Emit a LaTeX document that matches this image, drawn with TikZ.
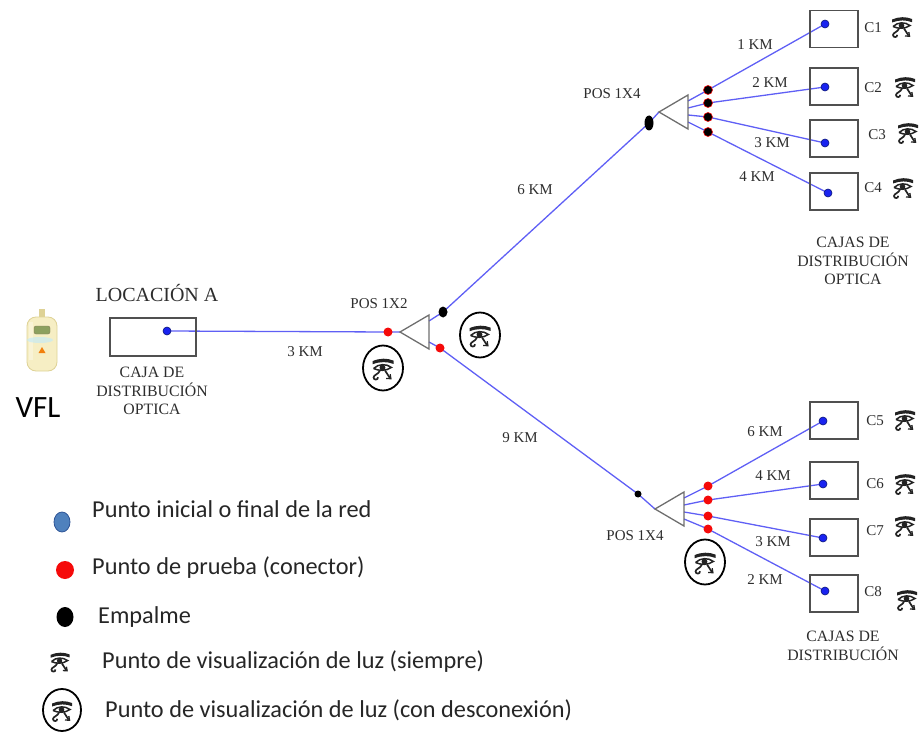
\documentclass[tikz,border=0pt]{standalone}
\usepackage{fontspec}
\setmainfont{Liberation Serif}
\newfontfamily\legendfont{Carlito}
\usetikzlibrary{shapes.geometric,backgrounds}
\definecolor{fiber}{RGB}{95,95,245}
\definecolor{endblue}{RGB}{25,35,240}
\definecolor{endrim}{RGB}{10,20,120}
\definecolor{boxgray}{RGB}{80,80,80}
\definecolor{trigray}{RGB}{110,110,110}
\definecolor{labelgray}{RGB}{45,45,45}
\definecolor{legblue}{RGB}{79,129,189}
\definecolor{legrim}{RGB}{47,85,151}
\definecolor{conred}{RGB}{245,10,10}
\definecolor{vflbody}{RGB}{246,238,196}
\definecolor{vflrim}{RGB}{222,210,150}
\definecolor{vfldisp}{RGB}{140,160,95}
\definecolor{glyph}{RGB}{35,35,35}

\tikzset{
  fiberline/.style={draw=fiber, line width=1.3},
  enddot/.style={circle, fill=endblue, draw=endrim, line width=0.6, inner sep=0, minimum size=8},
  testdot/.style={circle, fill=conred, inner sep=0, minimum size=9},
  splice/.style={ellipse, fill=black, inner sep=0, minimum width=9, minimum height=11},
  splicered/.style={circle, fill=black, draw=conred, line width=0.6, inner sep=0, minimum size=9},
  cbox/.style={draw=boxgray, line width=1.4, inner sep=0, minimum width=48, minimum height=37},
  lbl/.style={text=labelgray, inner sep=0, font=\fontsize{15}{17}\selectfont},
  biglbl/.style={text=labelgray, inner sep=0, font=\fontsize{20}{22}\selectfont},
  boxlbl/.style={text=labelgray, inner sep=0, align=center, font=\fontsize{15.8}{18.5}\selectfont},
  legtxt/.style={anchor=west, inner sep=0, text=black!85, font=\legendfont\fontsize{24.3}{27}\selectfont},
  eyering/.style={ellipse, draw=black, line width=1.8, inner sep=0, minimum width=40, minimum height=45},
  % stylised eye of Horus glyph
  horus/.pic={
    \begin{scope}[glyph]
    \fill (-10,-7.5) .. controls (-3,-10.5) and (4,-10.5) .. (10,-8) -- (10,-4.8)
          .. controls (4,-7.2) and (-3,-7.2) .. (-10,-4.5) -- cycle;
    \draw[line width=1.5] (-9,-0.5) .. controls (-4,-5.2) and (3,-5.2) .. (8,-1.5)
          .. controls (3,2) and (-4,2) .. (-9,-0.5);
    \fill (-0.5,-1.3) circle (2.8);
    \draw[line width=1.7] (-3,1.5) .. controls (-4,5) and (-9,5.5) .. (-9,8)
          .. controls (-9,10.8) and (-4.5,10.8) .. (-4.8,7.8);
    \draw[line width=1.7] (2,1.5) -- (6.5,8.5);
    \draw[line width=1.3] (3,9) -- (7.5,9.2) -- (6.8,5);
    \end{scope}
  },
  % 1xN splitter: left tip, vertical right side
  splitter/.pic={
    \draw[draw=trigray, line width=1.3] (0,0) -- (29,-17) -- (29,17) -- cycle;
    \coordinate (-tip) at (0,0);
    \coordinate (-a) at (29,-11);
    \coordinate (-b) at (29,-4);
    \coordinate (-c) at (29,3);
    \coordinate (-d) at (29,10);
  }
}

\begin{document}
\begin{tikzpicture}[x=1pt, y=-1pt]
\useasboundingbox (0,0) rectangle (921,738);

% ---------- VFL source ----------
\fill[vflrim] (38.5,309) rectangle (44.5,318);
\draw[vflrim, fill=vflbody, line width=0.8, rounded corners=9] (27,317) rectangle (57,371);
\fill[vflbody!70!white] (29,322) rectangle (33,360);
\draw[vflrim!60!black, fill=vfldisp, rounded corners=2] (34,326) rectangle (50,334);
\fill[cyan!25, opacity=0.6] (40,340) ellipse (13 and 3);
\fill[orange!80!brown] (42,347) -- (45.5,353) -- (38.5,353) -- cycle;
\node[font=\legendfont\fontsize{31}{33}\selectfont, inner sep=0] (vfl) at (38,408) {VFL};

% ---------- location A ----------
\node[biglbl] (locA) at (157,293) {LOCACIÓN A};
\node[cbox, minimum width=86, minimum height=38] (boxA) at (153,337) {};
\node[enddot] (pA) at (167,331) {};
\node[boxlbl] (boxAtxt) at (152,391) {CAJA DE\\DISTRIBUCIÓN\\OPTICA};

% ---------- splitters ----------
\pic (s0) at (400,332) {splitter};
\pic (s1) at (659,112) {splitter};
\pic (s2) at (655,509) {splitter};

% ---------- connection points on the trunk ----------
\node[testdot] (r0) at (388,332) {};
\node[splice] (k0) at (443,312) {};
\node[testdot] (r1) at (440,348) {};
\node[splice, minimum width=9, minimum height=15] (k1) at (649,123) {};
\node[splice, minimum width=7, minimum height=7] (k2) at (638,494) {};

% ---------- upper output points ----------
\node[splicered] (u1) at (708,90) {};
\node[splicered] (u2) at (708,103) {};
\node[splicered] (u3) at (708,117) {};
\node[splicered] (u4) at (708,132) {};

% ---------- lower output points ----------
\node[testdot] (l1) at (708,486) {};
\node[testdot] (l2) at (708,500) {};
\node[testdot] (l3) at (708,516) {};
\node[testdot] (l4) at (708,529) {};

% ---------- customer boxes ----------
\node[cbox] (b1) at (834,29) {};
\node[cbox] (b2) at (834,86.5) {};
\node[cbox] (b3) at (834,138.5) {};
\node[cbox] (b4) at (834,191.5) {};
\node[cbox] (b5) at (834,420.5) {};
\node[cbox] (b6) at (834,480.5) {};
\node[cbox] (b7) at (834,537.5) {};
\node[cbox] (b8) at (834,593.5) {};
\node[enddot] (c1) at (825,24) {};
\node[enddot] (c2) at (825,87) {};
\node[enddot] (c3) at (825,143) {};
\node[enddot] (c4) at (828,193) {};
\node[enddot] (c5) at (823,421) {};
\node[enddot] (c6) at (823,484) {};
\node[enddot] (c7) at (823,538) {};
\node[enddot] (c8) at (825,591) {};

% ---------- fibre runs ----------
\begin{scope}[on background layer]
  \draw[fiberline] (pA.center) -- (r0.center) -- (s0-tip);
  \draw[fiberline] (s0-a) -- (k0.center) -- (k1.center) -- (s1-tip);
  \draw[fiberline] (s0-d) -- (r1.center) -- (k2.center) -- (s2-tip);
  \draw[fiberline] (s1-a) -- (u1.center) -- (c1.center);
  \draw[fiberline] (s1-b) -- (u2.center) -- (c2.center);
  \draw[fiberline] (s1-c) -- (u3.center) -- (c3.center);
  \draw[fiberline] (s1-d) -- (u4.center) -- (c4.center);
  \draw[fiberline] (s2-a) -- (l1.center) -- (c5.center);
  \draw[fiberline] (s2-b) -- (l2.center) -- (c6.center);
  \draw[fiberline] (s2-c) -- (l3.center) -- (c7.center);
  \draw[fiberline] (s2-d) -- (l4.center) -- (c8.center);
\end{scope}

% ---------- distances and splitter names ----------
\node[lbl] (km3) at (305,352) {3 KM};
\node[lbl] (pos12) at (379,304) {POS 1X2};
\node[lbl] (km6) at (535,190) {6 KM};
\node[lbl] (km9) at (520,438) {9 KM};
\node[lbl] (pos14a) at (612,94) {POS 1X4};
\node[lbl] (pos14b) at (635,536) {POS 1X4};
\node[lbl] (kmc1) at (755,45) {1 KM};
\node[lbl] (kmc2) at (770,83) {2 KM};
\node[lbl] (kmc3) at (772,143) {3 KM};
\node[lbl] (kmc4) at (757,177) {4 KM};
\node[lbl] (kmc5) at (765,432) {6 KM};
\node[lbl] (kmc6) at (773,476) {4 KM};
\node[lbl] (kmc7) at (773,542) {3 KM};
\node[lbl] (kmc8) at (765,580) {2 KM};

% ---------- customer names and viewing points ----------
\node[lbl] (n1) at (873,28) {C1};
\node[lbl] (n2) at (873,88) {C2};
\node[lbl] (n3) at (877,135) {C3};
\node[lbl] (n4) at (873,188) {C4};
\node[lbl] (n5) at (875,421) {C5};
\node[lbl] (n6) at (875,484) {C6};
\node[lbl] (n7) at (875,531) {C7};
\node[lbl] (n8) at (873,592) {C8};
\pic[scale=1.0] at (902,27) {horus};
\pic[scale=1.0] at (905,87) {horus};
\pic[scale=1.0] at (908,133) {horus};
\pic[scale=1.0] at (903,188) {horus};
\pic[scale=1.0] at (905,420) {horus};
\pic[scale=1.0] at (905,484) {horus};
\pic[scale=1.0] at (905,526) {horus};
\pic[scale=1.0] at (907,600) {horus};

\node[boxlbl] (cajasup) at (853,261) {CAJAS DE\\DISTRIBUCIÓN\\OPTICA};
\node[boxlbl] (cajasdn) at (843,646) {CAJAS DE\\DISTRIBUCIÓN};

% ---------- viewing points with disconnection ----------
\node[eyering] (e1) at (480,335) {};
\pic[scale=1.05] at (480,336) {horus};
\node[eyering] (e2) at (383,368) {};
\pic[scale=1.05] at (383,369) {horus};
\node[eyering] (e3) at (705,562) {};
\pic[scale=1.05] at (705,563) {horus};

% ---------- legend ----------
\node[ellipse, fill=legblue, draw=legrim, line width=0.8, inner sep=0, minimum width=16, minimum height=20] (g1) at (62,522) {};
\node[legtxt] (t1) at (92,509) {Punto inicial o final de la red};
\node[circle, fill=conred, inner sep=0, minimum size=18] (g2) at (65,570) {};
\node[legtxt] (t2) at (92,568) {Punto de prueba (conector)};
\node[ellipse, fill=black, inner sep=0, minimum width=17, minimum height=20] (g3) at (65,617) {};
\node[legtxt] (t3) at (98,617) {Empalme};
\pic[scale=0.95] at (60,662) {horus};
\node[legtxt] (t4) at (102,662) {Punto de visualización de luz (siempre)};
\node[ellipse, draw=black, line width=1.8, inner sep=0, minimum width=38, minimum height=42] (g5) at (62,710) {};
\pic[scale=1.0] at (62,711) {horus};
\node[legtxt] (t5) at (105,710) {Punto de visualización de luz (con desconexión)};
\end{tikzpicture}
\end{document}
